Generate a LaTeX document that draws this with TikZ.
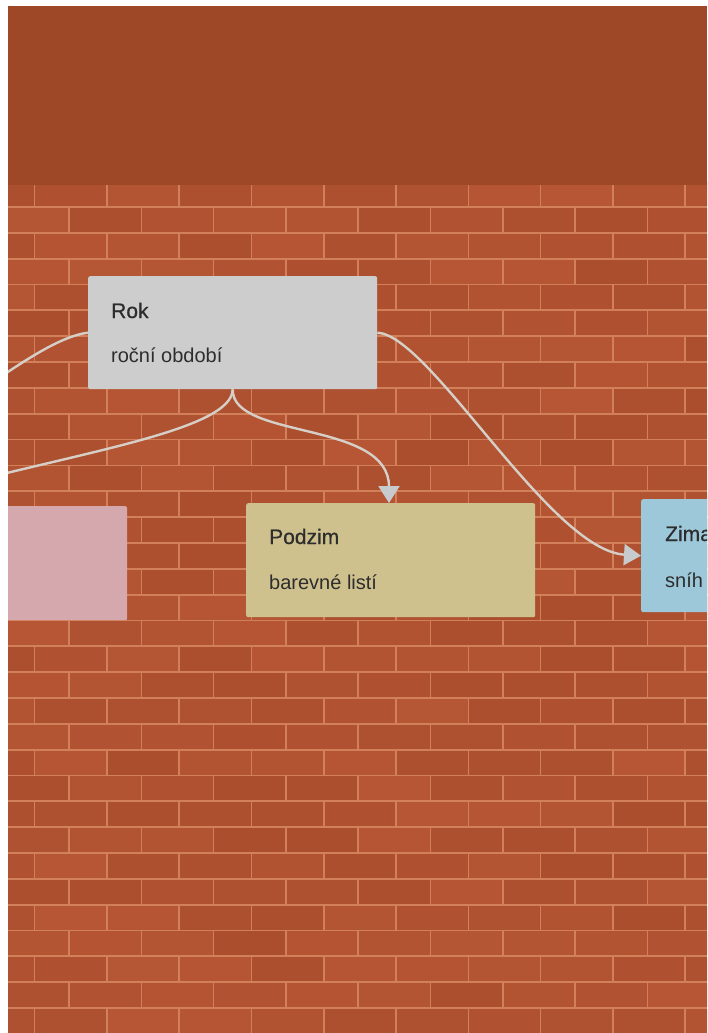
\documentclass[tikz,border=0pt]{standalone}
\usepackage{fontspec}
\setmainfont{Liberation Sans}
\newfontfamily\titlefont{Liberation Sans}[FakeBold=0.6]
\usetikzlibrary{arrows.meta}
\definecolor{band}{RGB}{158,72,40}
\definecolor{brickA}{RGB}{182,86,52}
\definecolor{brickB}{RGB}{170,78,46}
\definecolor{mortar}{RGB}{210,128,90}
\definecolor{rokc}{RGB}{205,205,205}
\definecolor{podzimc}{RGB}{207,193,142}
\definecolor{zimac}{RGB}{156,200,218}
\definecolor{jaroc}{RGB}{212,168,173}
\definecolor{edgec}{RGB}{214,207,199}
\definecolor{arrowc}{RGB}{200,203,205}
\definecolor{txt}{RGB}{45,45,45}
\tikzset{
  card/.style={rectangle, rounded corners=2pt, inner sep=0pt, anchor=north west, draw=none},
  ttl/.style={anchor=base west, inner sep=0pt, text=txt, font=\titlefont\fontsize{21}{25}\selectfont},
  sub/.style={anchor=base west, inner sep=0pt, text=txt, font=\fontsize{20}{24}\selectfont},
  link/.style={draw=edgec, line width=2.4pt},
  tip/.style={-{Triangle[length=17pt,width=21pt,color=arrowc]}},
}
\begin{document}
\begin{tikzpicture}[x=1pt,y=-1pt]
\useasboundingbox (0,0) rectangle (707,1033);
\fill[white] (0,0) rectangle (707,1033);
\begin{scope}
\clip (8,6) rectangle (707,1033);
% brick wall
\fill[mortar] (8,181) rectangle (707,1033);
\pgfmathsetseed{7}
\foreach \r in {0,...,33}{
  \pgfmathsetmacro\yt{181.16+\r*25.84}
  \pgfmathsetmacro\xo{mod(\r,2)==0 ? 34.5 : 69}
  \foreach \m in {-1,...,10}{
    \pgfmathrandominteger{\sh}{0}{100}
    \pgfmathsetmacro\xa{\xo+(\m-1)*72.3+0.8}
    \pgfmathsetmacro\xb{\xo+\m*72.3-0.8}
    \fill[brickA!\sh!brickB] (\xa,\yt+0.9) rectangle (\xb,\yt+25.84-0.9);
  }
}
\fill[band] (8,6) rectangle (707,185);
% cards
\node[card, fill=rokc, minimum width=289pt, minimum height=113pt] (rok) at (88,276) {};
\node[card, fill=jaroc, minimum width=219pt, minimum height=114pt] (jaro) at (-92,506) {};
\node[card, fill=podzimc, minimum width=289pt, minimum height=114pt] (podzim) at (246,503) {};
\node[card, fill=zimac, minimum width=289pt, minimum height=113pt] (zima) at (641,499) {};
\node[ttl] (rokT) at (111,318) {Rok};
\node[sub] (rokS) at (111,362) {roční období};
\node[ttl] (podzimT) at (269,544) {Podzim};
\node[sub] (podzimS) at (269,589) {barevné listí};
\node[ttl] (zimaT) at (665,541) {Zima};
\node[sub] (zimaS) at (665,587) {sníh};
% connectors
\coordinate (offL) at (2,376);
\coordinate (offJ) at (-60,490);
\draw[link] (rok.west) .. controls (68,335) and (40,350) .. (offL);
\draw[link] (rok.south) .. controls (232,430) and (80,452) .. (offJ);
\draw[link, tip] (rok.south) .. controls (232,440) and (389,420) .. (podzim.north -| 389,0);
\draw[link, tip] (rok.east) .. controls (430,335) and (550,550) .. (zima.west);
\end{scope}
\end{tikzpicture}
\end{document}
